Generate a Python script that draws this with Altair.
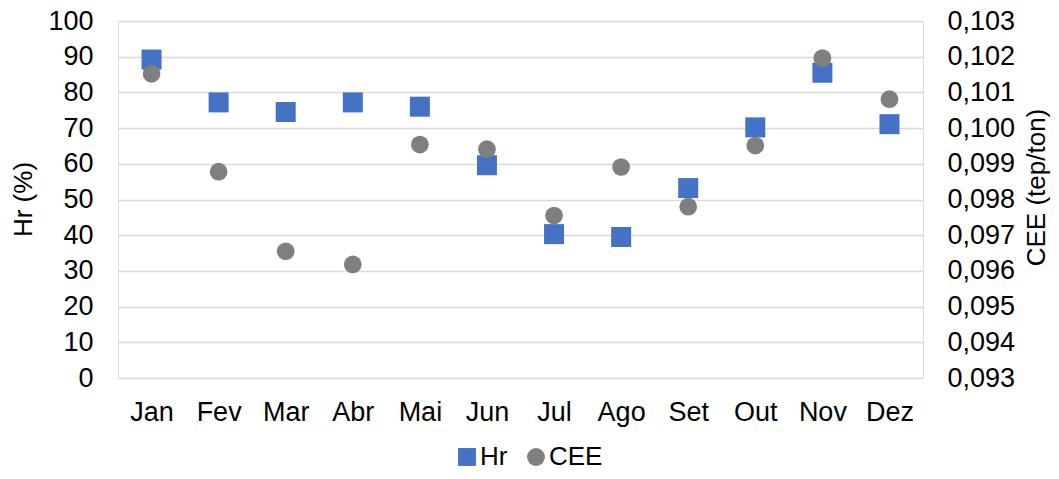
import altair as alt
import pandas as pd

months = ["Jan", "Fev", "Mar", "Abr", "Mai", "Jun", "Jul", "Ago", "Set", "Out", "Nov", "Dez"]
hr = [89.2, 77.2, 74.5, 77.2, 76.0, 59.6, 40.3, 39.5, 53.2, 70.2, 85.5, 71.1]
cee = [0.10152, 0.09878, 0.09655, 0.09618, 0.09954, 0.09941, 0.09755, 0.09891, 0.09780, 0.09951, 0.10196, 0.10081]

left_ticks = [0, 10, 20, 30, 40, 50, 60, 70, 80, 90, 100]
right_ticks = [0.093, 0.094, 0.095, 0.096, 0.097, 0.098, 0.099, 0.100, 0.101, 0.102, 0.103]

df = pd.DataFrame({"month": months, "Hr": hr, "CEE": cee})

FONT = "Liberation Sans"
FS = 27
TFS = 26

xenc = alt.X("month:N", sort=months, scale=alt.Scale(padding=0.5),
             axis=alt.Axis(title=None, labelAngle=0, labelPadding=21, ticks=False, domain=False,
                           grid=False, labelFontSize=FS, labelColor="#000000", labelFont=FONT))

color = alt.Color("series:N", scale=alt.Scale(domain=["Hr", "CEE"], range=["#4472C4", "#7F7F7F"]),
                  legend=alt.Legend(title=None, orient="none", legendX=336, legendY=423,
                                    direction="horizontal", labelFontSize=TFS, labelFont=FONT,
                                    labelColor="#000000", symbolSize=320, labelOffset=0,
                                    columnPadding=15, symbolStrokeWidth=0, padding=0))
shape = alt.Shape("series:N", scale=alt.Scale(domain=["Hr", "CEE"], range=["square", "circle"]))

base = alt.Chart(df)

hr_layer = base.transform_calculate(series="'Hr'").mark_point(
    filled=True, opacity=1, size=400, strokeWidth=0
).encode(
    x=xenc,
    y=alt.Y("Hr:Q", scale=alt.Scale(domain=[0, 100], nice=False, zero=False),
            axis=alt.Axis(values=left_ticks, title="Hr (%)", grid=True, gridColor="#D9D9D9",
                          gridWidth=1.3, ticks=False, domain=False, labelPadding=25,
                          labelFontSize=FS, labelFont=FONT, labelColor="#000000",
                          titleFontSize=TFS, titleFont=FONT, titleFontWeight="normal",
                          titleColor="#000000", titleAngle=270, titleX=-95, titleY=178,
                          titleBaseline="middle", titleAlign="center")),
    color=color,
    shape=shape,
)

cee_layer = base.transform_calculate(series="'CEE'").mark_point(
    filled=True, opacity=1, size=314, strokeWidth=0
).encode(
    x=xenc,
    y=alt.Y("CEE:Q", scale=alt.Scale(domain=[0.093, 0.103], nice=False, zero=False),
            axis=alt.Axis(orient="right", values=right_ticks, title="CEE (tep/ton)", grid=False,
                          ticks=False, domain=False, labelPadding=24,
                          labelExpr="replace(format(datum.value, '.3f'), '.', ',')",
                          labelFontSize=FS, labelFont=FONT, labelColor="#000000",
                          titleFontSize=TFS, titleFont=FONT, titleFontWeight="normal",
                          titleColor="#000000", titleAngle=270, titleX=113, titleY=166,
                          titleBaseline="middle", titleAlign="center")),
    color=color,
    shape=shape,
)

chart = alt.layer(hr_layer, cee_layer).resolve_scale(y="independent").properties(
    width=805, height=357,
    autosize=alt.AutoSizeParams(type="none"),
    padding={"left": 110, "top": 13, "right": 128, "bottom": 88},
).configure_view(strokeWidth=0, stroke="transparent").configure(font=FONT)

chart.save("out.html", embed_options={"renderer": "svg", "actions": False})
